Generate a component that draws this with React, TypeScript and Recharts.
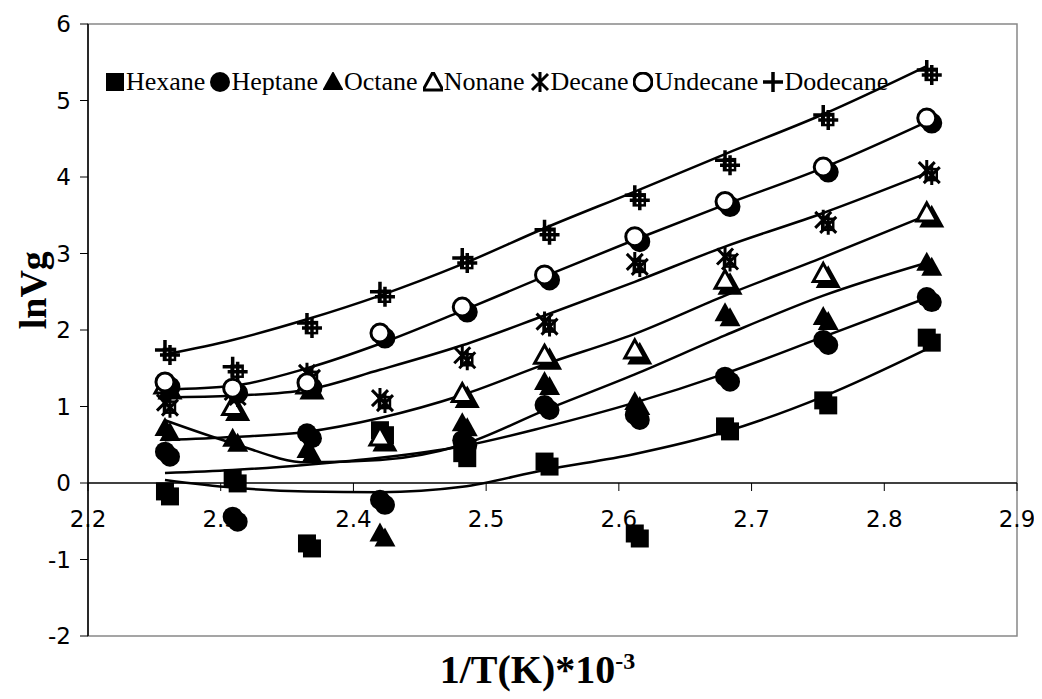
import React from "react";
import {
  ComposedChart,
  Line,
  Scatter,
  XAxis,
  YAxis,
  ReferenceLine,
  ReferenceArea,
} from "recharts";

const WIDTH = 1034;
const HEIGHT = 691;
const X_AXIS_H = 63;
const MARGIN = { top: 16, right: 25, bottom: 0, left: 0 };
const Y_MIN = -2;
const Y_MAX = 6;
const PLOT_H = HEIGHT - MARGIN.top - MARGIN.bottom - X_AXIS_H;
// the x axis crosses at lnVg = 0, not at the bottom of the plot
const AXIS_LIFT = (PLOT_H * (0 - Y_MIN)) / (Y_MAX - Y_MIN);

// 1/T(K)*10^3 of the ten column temperatures
const invT = [2.258, 2.309, 2.365, 2.42, 2.482, 2.544, 2.612, 2.68, 2.754, 2.832];
const xTicks = [2.2, 2.3, 2.4, 2.5, 2.6, 2.7, 2.8, 2.9];
const yTicks = [-2, -1, 0, 1, 2, 3, 4, 5, 6];

// measured lnVg
const hexane = [-0.11, 0.06, -0.79, 0.69, 0.39, 0.28, -0.66, 0.74, 1.08, 1.9];
const heptane = [0.41, -0.44, 0.65, -0.22, 0.56, 1.02, 0.89, 1.39, 1.87, 2.43];
const octane = [0.72, 0.58, 0.43, -0.66, 0.78, 1.32, 1.06, 2.22, 2.17, 2.88];
const nonane = [1.28, 1.0, 1.28, 0.6, 1.17, 1.67, 1.74, 2.65, 2.74, 3.53];
const decane = [1.05, 1.19, 1.44, 1.11, 1.67, 2.11, 2.89, 2.96, 3.44, 4.09];
const undecane = [1.32, 1.24, 1.31, 1.96, 2.3, 2.72, 3.22, 3.68, 4.13, 4.77];
const dodecane = [1.74, 1.52, 2.09, 2.5, 2.94, 3.31, 3.76, 4.22, 4.81, 5.4];

// trend lines as drawn in the figure, read at the same 1/T values
const hexaneFit = [0.04, -0.06, -0.11, -0.12, -0.05, 0.17, 0.38, 0.67, 1.13, 1.75];
const heptaneFit = [0.13, 0.17, 0.24, 0.33, 0.48, 0.73, 1.05, 1.43, 1.91, 2.42];
const octaneFit = [0.82, 0.52, 0.27, 0.3, 0.5, 0.95, 1.42, 1.93, 2.45, 2.88];
const nonaneFit = [0.56, 0.6, 0.67, 0.85, 1.15, 1.55, 1.95, 2.45, 2.95, 3.5];
const decaneFit = [1.12, 1.14, 1.22, 1.48, 1.8, 2.19, 2.63, 3.09, 3.53, 4.05];
const undecaneFit = [1.22, 1.27, 1.5, 1.82, 2.25, 2.7, 3.18, 3.64, 4.12, 4.72];
const dodecaneFit = [1.68, 1.87, 2.14, 2.45, 2.86, 3.33, 3.81, 4.3, 4.82, 5.45];

type Kind = "square" | "circle" | "triangle" | "triangleOpen" | "star" | "circleOpen" | "plus";

const series: { name: string; kind: Kind; values: number[]; fit: number[] }[] = [
  { name: "Hexane", kind: "square", values: hexane, fit: hexaneFit },
  { name: "Heptane", kind: "circle", values: heptane, fit: heptaneFit },
  { name: "Octane", kind: "triangle", values: octane, fit: octaneFit },
  { name: "Nonane", kind: "triangleOpen", values: nonane, fit: nonaneFit },
  { name: "Decane", kind: "star", values: decane, fit: decaneFit },
  { name: "Undecane", kind: "circleOpen", values: undecane, fit: undecaneFit },
  { name: "Dodecane", kind: "plus", values: dodecane, fit: dodecaneFit },
];

const toPoints = (ys: number[]) => invT.map((x, i) => ({ x, y: ys[i] }));

const Glyph = ({ kind, x, y, solid = false }: { kind: Kind; x: number; y: number; solid?: boolean }) => {
  const inner = solid ? "#000" : "#fff";
  switch (kind) {
    case "square":
      return <rect x={x - 9} y={y - 9} width={18} height={18} fill="#000" />;
    case "circle":
      return <circle cx={x} cy={y} r={10} fill="#000" />;
    case "triangle":
      return <polygon points={`${x},${y - 11} ${x + 10.5},${y + 8} ${x - 10.5},${y + 8}`} fill="#000" />;
    case "triangleOpen":
      return (
        <polygon
          points={`${x},${y - 10} ${x + 10},${y + 8} ${x - 10},${y + 8}`}
          fill={inner}
          stroke="#000"
          strokeWidth={3}
        />
      );
    case "circleOpen":
      return <circle cx={x} cy={y} r={9} fill={inner} stroke="#000" strokeWidth={3} />;
    case "star":
      return (
        <path
          d={`M${x - 8},${y - 8}L${x + 8},${y + 8}M${x + 8},${y - 8}L${x - 8},${y + 8}M${x},${y - 10}L${x},${y + 10}`}
          stroke="#000"
          strokeWidth={3}
        />
      );
    default:
      return <path d={`M${x - 10},${y}H${x + 10}M${x},${y - 10}V${y + 10}`} stroke="#000" strokeWidth={3.5} />;
  }
};

// each point carries a dark drop shadow down-right, as in the original figure;
// the line-type markers get a boxed shadow
const ShadowMarker = ({ kind, cx, cy }: { kind: Kind; cx?: number; cy?: number }) => {
  if (cx == null || cy == null) return null;
  const boxed = kind === "plus" || kind === "star";
  return (
    <g>
      {boxed && (
        <rect x={cx - 1} y={cy - 1} width={11} height={11} fill="none" stroke="#000" strokeWidth={2.5} />
      )}
      <Glyph kind={kind} x={cx + 5} y={cy + 5} solid />
      <Glyph kind={kind} x={cx} y={cy} />
    </g>
  );
};

const XTick = ({ x, y, payload }: any) => {
  const y0 = y - AXIS_LIFT;
  return (
    <g>
      <line x1={x} x2={x} y1={y0} y2={y0 + 8} stroke="#000" strokeWidth={1} />
      <text x={x} y={y0 + 44} textAnchor="middle" fontFamily="DejaVu Sans" fontSize={23} fill="#000">
        {Number(payload.value).toFixed(1)}
      </text>
    </g>
  );
};

const XTitle = ({ viewBox }: any) => (
  <text
    x={viewBox.x + viewBox.width / 2 - 15}
    y={viewBox.y + 47}
    textAnchor="middle"
    fontFamily="Liberation Serif"
    fontWeight="bold"
    fontSize={40}
    fill="#000"
  >
    1/T(K)*10
    <tspan dy={-14} fontSize={24}>
      -3
    </tspan>
  </text>
);

const YTitle = ({ viewBox }: any) => {
  const cx = viewBox.x + 25;
  const cy = viewBox.y + viewBox.height * 0.435;
  return (
    <text
      x={cx}
      y={cy}
      textAnchor="middle"
      dominantBaseline="central"
      transform={`rotate(-90, ${cx}, ${cy})`}
      fontFamily="Liberation Serif"
      fontWeight="bold"
      fontSize={38}
      fill="#000"
    >
      lnVg
    </text>
  );
};

const App = () => {
  return (
    <div style={{ position: "relative", width: WIDTH, height: HEIGHT }}>
      <ComposedChart width={WIDTH} height={HEIGHT} margin={MARGIN}>
        <ReferenceArea x1={2.2} x2={2.9} y1={Y_MIN} y2={Y_MAX} fill="none" stroke="#888" strokeWidth={1.5} />
        <XAxis
          type="number"
          dataKey="x"
          domain={[2.2, 2.9]}
          ticks={xTicks}
          allowDataOverflow
          height={X_AXIS_H}
          axisLine={false}
          tickLine={false}
          tickSize={0}
          tickMargin={0}
          tick={(props: any) => <XTick {...props} />}
          label={(props: any) => <XTitle viewBox={props.viewBox} />}
        />
        <YAxis
          type="number"
          domain={[Y_MIN, Y_MAX]}
          ticks={yTicks}
          allowDataOverflow
          width={80}
          axisLine={{ stroke: "#000", strokeWidth: 1.5 }}
          tickLine={{ stroke: "#000" }}
          tickSize={8}
          tickMargin={9}
          tick={{ fill: "#000", fontFamily: "DejaVu Sans", fontSize: 23 }}
          label={(props: any) => <YTitle viewBox={props.viewBox} />}
        />
        <ReferenceLine y={0} stroke="#000" strokeWidth={1.5} />
        {series.map((s) => (
          <Line
            key={`fit-${s.name}`}
            data={toPoints(s.fit)}
            dataKey="y"
            type="monotone"
            stroke="#000"
            strokeWidth={2.5}
            dot={false}
            activeDot={false}
            legendType="none"
            isAnimationActive={false}
          />
        ))}
        {series.map((s) => (
          <Scatter
            key={s.name}
            name={s.name}
            data={toPoints(s.values)}
            dataKey="y"
            shape={(p: any) => <ShadowMarker kind={s.kind} cx={p.cx} cy={p.cy} />}
            isAnimationActive={false}
          />
        ))}
      </ComposedChart>
      <div
        style={{
          position: "absolute",
          left: 97,
          top: 59,
          display: "flex",
          alignItems: "center",
          fontFamily: '"Liberation Serif", serif',
          fontSize: 26,
          lineHeight: "30px",
          whiteSpace: "nowrap",
          color: "#000",
        }}
      >
        {series.map((s) => (
          <span key={s.name} style={{ display: "inline-flex", alignItems: "center", marginRight: 5 }}>
            <svg width={20} height={20} style={{ marginRight: 1 }}>
              <Glyph kind={s.kind} x={10} y={10} />
            </svg>
            {s.name}
          </span>
        ))}
      </div>
    </div>
  );
};

export default App;
